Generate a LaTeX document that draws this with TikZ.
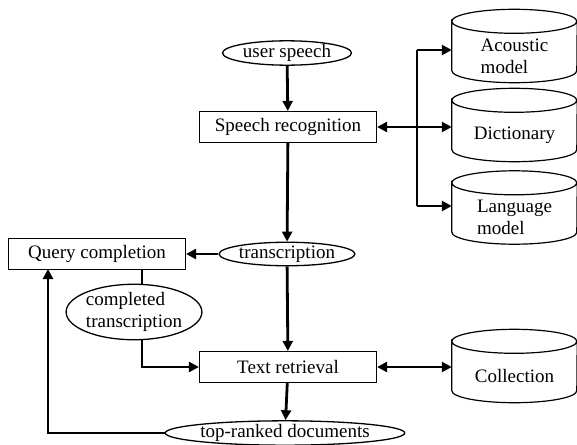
\documentclass[tikz,border=0pt]{standalone}
\usepackage{fontspec}
\setmainfont{Liberation Serif}
\usepackage{tikz}
\usetikzlibrary{arrows.meta,shapes,positioning,calc}

\tikzset{
  flow/.style={line width=2.8pt,-{Triangle[length=10pt,width=10pt]}},
  flowtwo/.style={line width=2.8pt,{Triangle[length=10pt,width=10pt]}-{Triangle[length=10pt,width=10pt]}},
  plain/.style={line width=2.8pt},
  procbox/.style={draw,line width=1.2pt,rectangle,inner sep=0pt,minimum width=177pt,minimum height=31pt},
  dataell/.style={draw,line width=1.3pt,ellipse,inner sep=0pt},
  storebox/.style={rectangle,inner sep=0pt,minimum width=125pt,minimum height=73pt},
  storetext/.style={align=left,inner sep=0pt},
  storeline/.style={line width=1.2pt}
}

% cylinder: name, x, y, text
\newcommand{\dbstore}[4]{%
  \node[storebox] (#1) at (#2,#3) {};
  \draw[storeline] ([yshift=-12pt]#1.north west)
     arc[start angle=180,end angle=-180,x radius=62.5pt,y radius=12pt]
     -- ([yshift=12pt]#1.south west)
     arc[start angle=180,end angle=360,x radius=62.5pt,y radius=12pt]
     -- ([yshift=-12pt]#1.north east);
  \node[storetext] (#1-text) at ([yshift=-10pt]#1.center) {#4};
}

\begin{document}
\begin{tikzpicture}[x=1pt,y=1pt,font=\fontsize{19}{22}\selectfont]
  \useasboundingbox (0,0) rectangle (577,-444);

  \node[dataell,minimum width=129pt,minimum height=22pt] (speech) at (287,-53) {user speech};
  \node[procbox] (recog) at (288,-127) {Speech recognition};
  \node[dataell,minimum width=129pt,minimum height=20pt] (trans) at (287,-254) {transcription};
  \node[procbox] (query) at (97,-254) {Query completion};
  \node[dataell,minimum width=113pt,minimum height=55pt,align=left] (compl) at (134,-312) {completed\\transcription};
  \node[procbox] (retr) at (288,-367) {Text retrieval};
  \node[dataell,minimum width=196pt,minimum height=24pt] (ranked) at (285,-433) {top-ranked documents};

  \dbstore{acou}{514.5}{-46}{Acoustic\\model}
  \dbstore{dict}{514.5}{-125}{Dictionary}
  \dbstore{lang}{514.5}{-207.5}{Language\\model}
  \dbstore{coll}{514.5}{-366}{Collection}

  \coordinate (bustop) at (417,-50);
  \coordinate (busbot) at (417,-206);
  \coordinate (qcdown) at (142,-269);
  \coordinate (back) at (48,-269);

  % recognition
  \draw[flow] (speech) -- (recog);
  \draw[flowtwo] (recog.east) -- (recog.east -| dict.west);
  \draw[plain] (bustop) -- (busbot);
  \draw[flow] (bustop) -- (bustop -| acou.west);
  \draw[flow] (busbot) -- (busbot -| lang.west);
  \draw[flow] (recog) -- (trans);

  % completion and retrieval
  \draw[flow] (trans) -- (query);
  \draw[flow] (trans) -- (retr);
  \draw[plain] (qcdown) -- (compl.north -| qcdown);
  \draw[flow] (compl.south -| qcdown) |- (retr.west);
  \draw[flowtwo] (retr.east) -- (retr.east -| coll.west);
  \draw[flow] (retr) -- (ranked);
  \draw[flow] (ranked.west) -| (back);
\end{tikzpicture}
\end{document}
